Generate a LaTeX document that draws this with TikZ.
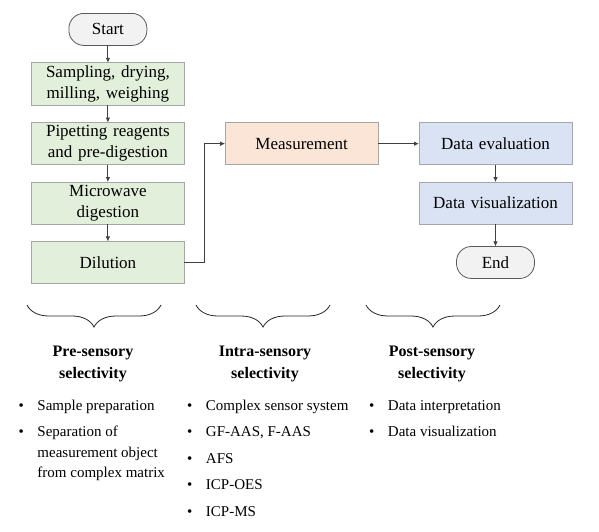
\documentclass[tikz,border=0pt]{standalone}
\usepackage{fontspec}
\setmainfont{Liberation Serif}
\usetikzlibrary{matrix, arrows.meta, decorations.pathreplacing}

\definecolor{prepgreen}{HTML}{E2EFDA}
\definecolor{measorange}{HTML}{FBE5D6}
\definecolor{evalblue}{HTML}{DAE3F3}
\definecolor{termgray}{HTML}{F2F2F2}
\definecolor{boxline}{HTML}{A6A6A6}
\definecolor{termline}{HTML}{595959}
\definecolor{arrowgray}{HTML}{404040}

\tikzset{
  box/.style={draw=boxline, line width=0.8pt, minimum width=153pt, minimum height=42pt, text width=147pt, inner sep=3pt, align=center, font=\fontsize{17}{21}\selectfont},
  term/.style={draw=termline, fill=termgray, line width=0.8pt, rounded corners=15pt, minimum width=78pt, minimum height=32pt, inner sep=3pt, font=\fontsize{17}{21}\selectfont},
  flow/.style={-{Latex[length=5pt,width=4.5pt]}, draw=arrowgray, line width=0.9pt},
  head/.style={align=center, inner sep=0pt, font=\bfseries\fontsize{16}{22}\selectfont},
  list/.style={anchor=base west, inner sep=0pt, font=\fontsize{15}{20.5}\selectfont},
  selbrace/.style={decorate, decoration={brace, mirror, amplitude=22pt}, draw=black!85, line width=0.8pt}
}

\begin{document}
\begin{tikzpicture}[x=1pt, y=1pt]
\useasboundingbox (0,0) rectangle (599,-531);
\matrix (m) [matrix of nodes, column sep = 40pt, row sep = 16.6pt, inner sep=0pt, outer sep=0pt, anchor=north west, nodes={anchor=center}] at (31,-13) {
\node[term](start){Start}; & & \\
\node[box, fill=prepgreen](samp){Sampling, drying,\\ milling, weighing}; & & \\
\node[box, fill=prepgreen](pipet){Pipetting reagents\\ and pre-digestion}; & \node[box, fill=measorange](meas){Measurement}; & \node[box, fill=evalblue](eval){Data evaluation}; \\
\node[box, fill=prepgreen](micro){Microwave\\ digestion}; & & \node[box, fill=evalblue](vis){Data visualization}; \\
\node[box, fill=prepgreen](dil){Dilution}; & & \node[term](fin){End}; \\
};
\draw[flow] (start) -- (samp);
\draw[flow] (samp) -- (pipet);
\draw[flow] (pipet) -- (micro);
\draw[flow] (micro) -- (dil);
\draw[flow] (dil.east) -- ++(20,0) |- (meas.west);
\draw[flow] (meas) -- (eval);
\draw[flow] (eval) -- (vis);
\draw[flow] (vis) -- (fin);

\draw[selbrace] (27,-305) -- (161,-305);
\draw[selbrace] (196,-305) -- (330,-305);
\draw[selbrace] (366,-305) -- (500,-305);

\node[head] (prehead) at (93,-364) {Pre-sensory\\ selectivity};
\node[head] (intrahead) at (265,-364) {Intra-sensory\\ selectivity};
\node[head] (posthead) at (432,-364) {Post-sensory\\ selectivity};

\node[list] (prelist) at (18.5,-410) {\begin{tabular}[t]{@{}l@{\hspace{13.5pt}}l@{}}
\textbullet & Sample preparation\\[6pt]
\textbullet & Separation of\\
 & measurement object\\
 & from complex matrix
\end{tabular}};
\node[list] (intralist) at (187,-410) {\begin{tabular}[t]{@{}l@{\hspace{13.5pt}}l@{}}
\textbullet & Complex sensor system\\[6pt]
\textbullet & GF-AAS, F-AAS\\[6pt]
\textbullet & AFS\\[6pt]
\textbullet & ICP-OES\\[6pt]
\textbullet & ICP-MS
\end{tabular}};
\node[list] (postlist) at (369,-410) {\begin{tabular}[t]{@{}l@{\hspace{13.5pt}}l@{}}
\textbullet & Data interpretation\\[6pt]
\textbullet & Data visualization
\end{tabular}};
\end{tikzpicture}
\end{document}
